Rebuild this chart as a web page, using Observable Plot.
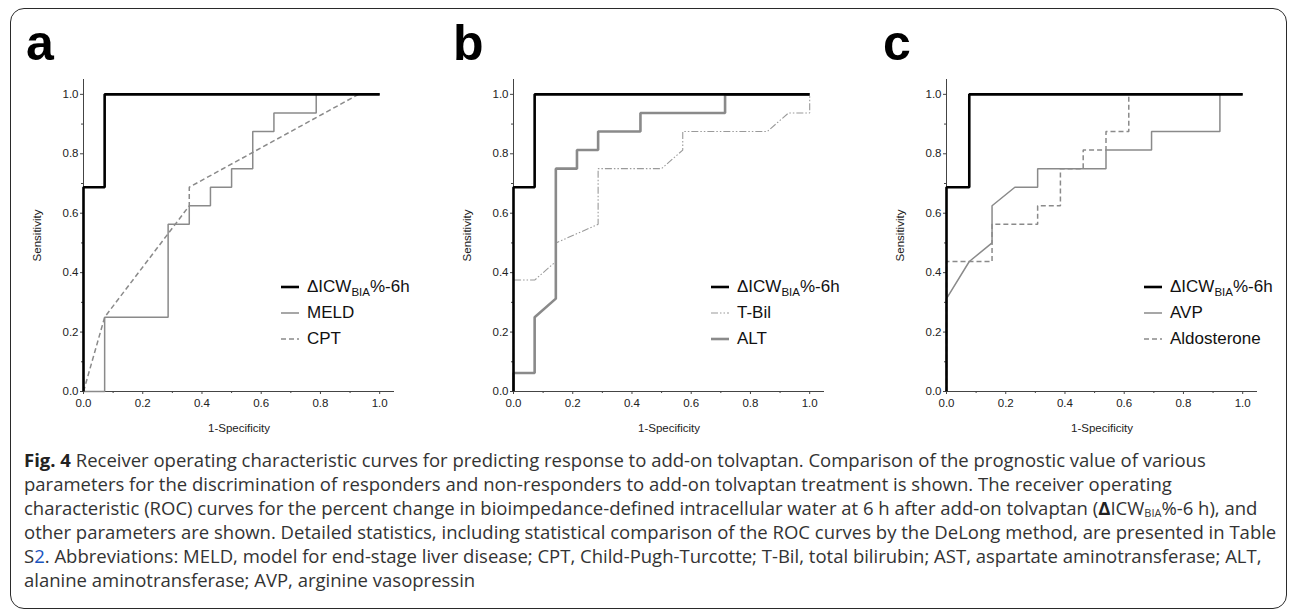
<!DOCTYPE html>
<html><head><meta charset="utf-8">
<script src="https://cdn.jsdelivr.net/npm/d3@7"></script>
<script src="https://cdn.jsdelivr.net/npm/@observablehq/plot@0.6"></script>
<style>
body{margin:0;background:#fff;}
#wrap{position:relative;width:1295px;height:613px;overflow:hidden;font-family:"Liberation Sans",Arial,sans-serif;background:#fff;}
#frame{position:absolute;left:10px;top:8px;width:1277px;height:601px;border:1.3px solid #2a2a2a;border-radius:14px;box-sizing:border-box;}
.panel{position:absolute;top:0;}
.letter{position:absolute;top:18px;font-weight:bold;font-size:50px;line-height:50px;color:#000;}
.legend{position:absolute;top:274px;font-size:17px;color:#111;}
.legend .row{display:flex;align-items:center;height:26px;white-space:nowrap;}
.legend svg{margin-right:8px;}
.legend sub{font-size:11.5px;vertical-align:-4px;line-height:0;}
#caption{position:absolute;left:24px;top:448px;font-family:"Open Sans",sans-serif;font-size:18.5px;line-height:24px;color:#333;white-space:nowrap;}
#caption > div{height:24px;}
#caption b{color:#222;}
#caption sub{font-size:11px;vertical-align:-2px;line-height:0;}
</style></head>
<body>
<div id="wrap">
  <div id="frame"></div>
  <div class="letter" style="left:26px">a</div>
  <div class="letter" style="left:453px">b</div>
  <div class="letter" style="left:883px">c</div>
  <div id="caption"></div>
</div>
<script>
// ---- tick values ----
const majorTicks = [0, 0.2, 0.4, 0.6, 0.8, 1.0];
const minorTicks = [0.1, 0.3, 0.5, 0.7, 0.9];

// ---- panel a ----
const aICW_x = [0, 0, 0.0714, 0.0714, 1];
const aICW_y = [0, 0.6875, 0.6875, 1, 1];
const aMELD_x = [0, 0.0714, 0.0714, 0.2857, 0.2857, 0.3571, 0.3571, 0.4286, 0.4286, 0.5, 0.5, 0.5714, 0.5714, 0.6429, 0.6429, 0.7857, 0.7857, 1];
const aMELD_y = [0, 0, 0.25, 0.25, 0.5625, 0.5625, 0.625, 0.625, 0.6875, 0.6875, 0.75, 0.75, 0.875, 0.875, 0.9375, 0.9375, 1, 1];
const aCPT_x = [0, 0.0714, 0.3571, 0.3571, 0.9286, 1];
const aCPT_y = [0, 0.25, 0.625, 0.6875, 1, 1];

// ---- panel b ----
const bICW_x = [0, 0, 0.0714, 0.0714, 1];
const bICW_y = [0, 0.6875, 0.6875, 1, 1];
const bTBil_x = [0, 0, 0.0714, 0.1429, 0.1429, 0.2857, 0.2857, 0.5, 0.5714, 0.5714, 0.8571, 0.9286, 1, 1];
const bTBil_y = [0, 0.375, 0.375, 0.4375, 0.5, 0.5625, 0.75, 0.75, 0.8125, 0.875, 0.875, 0.9375, 0.9375, 1];
const bALT_x = [0, 0, 0.0714, 0.0714, 0.1429, 0.1429, 0.2143, 0.2143, 0.2857, 0.2857, 0.4286, 0.4286, 0.7143, 0.7143, 1];
const bALT_y = [0, 0.0625, 0.0625, 0.25, 0.3125, 0.75, 0.75, 0.8125, 0.8125, 0.875, 0.875, 0.9375, 0.9375, 1, 1];

// ---- panel c ----
const cICW_x = [0, 0, 0.0769, 0.0769, 1];
const cICW_y = [0, 0.6875, 0.6875, 1, 1];
const cAVP_x = [0, 0, 0.0769, 0.1538, 0.1538, 0.2308, 0.3077, 0.3077, 0.5385, 0.5385, 0.6923, 0.6923, 0.9231, 0.9231, 1];
const cAVP_y = [0, 0.3125, 0.4375, 0.5, 0.625, 0.6875, 0.6875, 0.75, 0.75, 0.8125, 0.8125, 0.875, 0.875, 1, 1];
const cAldo_x = [0, 0, 0.1538, 0.1538, 0.3077, 0.3077, 0.3846, 0.3846, 0.4615, 0.4615, 0.5385, 0.5385, 0.6154, 0.6154, 1];
const cAldo_y = [0, 0.4375, 0.4375, 0.5625, 0.5625, 0.625, 0.625, 0.75, 0.75, 0.8125, 0.8125, 0.875, 0.875, 1, 1];

// ---- styles ----
const S = {
  icw:  {stroke: "#000", strokeWidth: 2.6},
  thin: {stroke: "#8a8a8a", strokeWidth: 1.5},
  dash: {stroke: "#8a8a8a", strokeWidth: 1.5, strokeDasharray: "5,3"},
  dotdash: {stroke: "#9a9a9a", strokeWidth: 1.1, strokeDasharray: "7,2,1.5,2,1.5,2"},
  thick: {stroke: "#8a8a8a", strokeWidth: 2.6}
};

const legendNames = {
  a: ["ICW", "MELD", "CPT"],
  b: ["ICW", "T-Bil", "ALT"],
  c: ["ICW", "AVP", "Aldosterone"]
};

function panel(series, marginLeft) {
  const W = 430, H = 440, mt = 79, mb = 49;
  const lines = series.map(s => Plot.line(s.y, {x: s.x, y: s.y, ...s.style, strokeLinejoin: "miter", strokeLinecap: "butt"}));
  return Plot.plot({
    width: W, height: H,
    marginLeft, marginRight: W - marginLeft - 311, marginTop: mt, marginBottom: mb,
    x: {domain: [0, 1.05]},
    y: {domain: [0, 1.05]},
    style: {fontFamily: "Liberation Sans, Arial, sans-serif", fontSize: "11px", color: "#222", background: "transparent", overflow: "visible"},
    marks: [
      Plot.axisX({ticks: minorTicks, tickSize: 2, text: null, label: null, stroke: "#444"}),
      Plot.axisY({ticks: minorTicks, tickSize: 2, text: null, label: null, stroke: "#444"}),
      Plot.axisX({ticks: majorTicks, tickSize: 3, tickPadding: 4, tickFormat: d3.format(".1f"), fontSize: 11.5,
        label: "1-Specificity", labelAnchor: "center", labelOffset: 40, labelArrow: "none", stroke: "#444"}),
      Plot.axisY({ticks: majorTicks, tickSize: 3, tickPadding: 2, tickFormat: d3.format(".1f"), fontSize: 11.5,
        label: "Sensitivity", labelAnchor: "center", labelOffset: 51, labelArrow: "none", stroke: "#444"}),
      Plot.ruleX([0], {stroke: "#444"}),
      Plot.ruleY([0], {stroke: "#444"}),
      ...lines
    ]
  });
}

function legend(names, styles, left) {
  const div = document.createElement("div");
  div.className = "legend";
  div.style.left = left + "px";
  names.forEach((n, i) => {
    const st = styles[i];
    const row = document.createElement("div");
    row.className = "row";
    row.innerHTML = `<svg width="18" height="10"><line x1="0" x2="18" y1="5" y2="5" stroke="${st.stroke}" stroke-width="${st.strokeWidth}" ${st.strokeDasharray ? `stroke-dasharray="${st.strokeDasharray}"` : ""}/></svg>` +
      (n === "ICW" ? `<span>ΔICW<sub>BIA</sub>%-6h</span>` : `<span>${n}</span>`);
    div.appendChild(row);
  });
  return div;
}

const wrap = document.getElementById("wrap");
const panels = [
  {left: 0, ml: 83, series: [
    {x: aMELD_x, y: aMELD_y, style: S.thin},
    {x: aCPT_x, y: aCPT_y, style: S.dash},
    {x: aICW_x, y: aICW_y, style: S.icw}], legendLeft: 281, names: legendNames.a, lstyles: [S.icw, S.thin, S.dash]},
  {left: 430, ml: 83, series: [
    {x: bTBil_x, y: bTBil_y, style: S.dotdash},
    {x: bALT_x, y: bALT_y, style: S.thick},
    {x: bICW_x, y: bICW_y, style: S.icw}], legendLeft: 711, names: legendNames.b, lstyles: [S.icw, S.dotdash, S.thick]},
  {left: 860, ml: 86, series: [
    {x: cAVP_x, y: cAVP_y, style: S.thin},
    {x: cAldo_x, y: cAldo_y, style: S.dash},
    {x: cICW_x, y: cICW_y, style: S.icw}], legendLeft: 1144, names: legendNames.c, lstyles: [S.icw, S.thin, S.dash]}
];
panels.forEach(p => {
  const svg = panel(p.series, p.ml);
  svg.classList.add("panel");
  svg.style.left = p.left + "px";
  wrap.appendChild(svg);
  wrap.appendChild(legend(p.names, p.lstyles, p.legendLeft));
});

// ---- caption ----
const captionLines = [
  `<b>Fig. 4</b> Receiver operating characteristic curves for predicting response to add-on tolvaptan. Comparison of the prognostic value of various`,
  `parameters for the discrimination of responders and non-responders to add-on tolvaptan treatment is shown. The receiver operating`,
  `characteristic (ROC) curves for the percent change in bioimpedance-defined intracellular water at 6 h after add-on tolvaptan (<b>Δ</b>ICW<sub>BIA</sub>%-6 h), and`,
  `other parameters are shown. Detailed statistics, including statistical comparison of the ROC curves by the DeLong method, are presented in Table`,
  `S<span style="color:#1a55c0">2</span>. Abbreviations: MELD, model for end-stage liver disease; CPT, Child-Pugh-Turcotte; T-Bil, total bilirubin; AST, aspartate aminotransferase; ALT,`,
  `alanine aminotransferase; AVP, arginine vasopressin`
];
document.getElementById("caption").innerHTML = captionLines.map(l => `<div>${l}</div>`).join("");
</script>
</body></html>
